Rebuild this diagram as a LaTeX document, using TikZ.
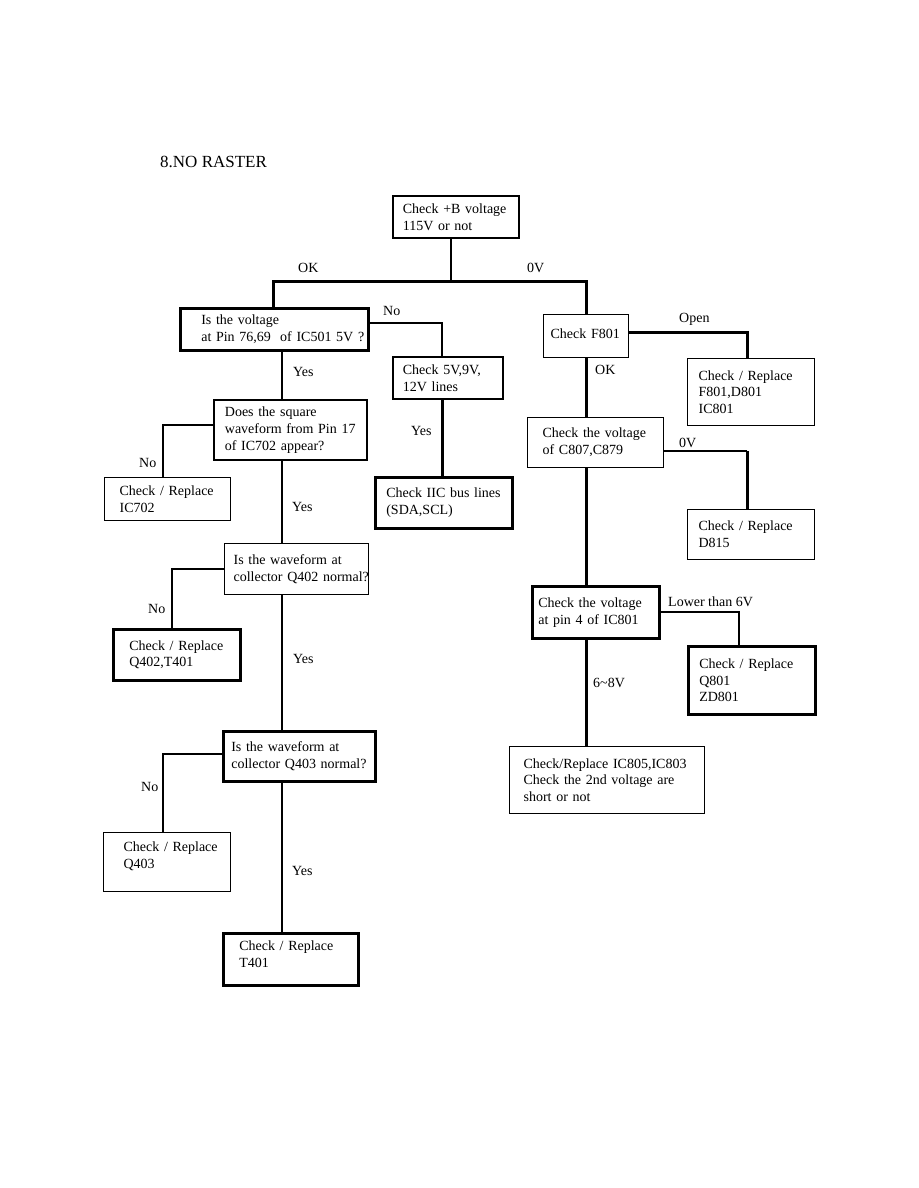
\documentclass[tikz,border=0pt]{standalone}
\usepackage{fontspec}
\setmainfont{Liberation Serif}
\begin{document}
\begin{tikzpicture}[x=1pt,y=-1pt,
  every node/.style={font=\fontsize{14}{16.8}\selectfont},
  box/.style={draw, rectangle, anchor=north west, align=left, inner ysep=1pt},
  bx/.style n args={3}{minimum width=#1, minimum height=#2, text width=#1, inner xsep=0pt,
    execute at begin node={\leftskip=#3pt\relax\rightskip=0pt plus 1fil minus 80pt\relax}},
  up/.style={execute at end node={\endgraf\kern#1pt}},
  thinb/.style={line width=1.2pt},
  medb/.style={line width=1.8pt},
  thickb/.style={line width=2.6pt},
  lbl/.style={anchor=west, inner sep=0pt},
  wire/.style={line width=1.2pt},
  wirem/.style={line width=2pt},
  wiret/.style={line width=3pt},
]
\useasboundingbox[fill=white] (0,0) rectangle (918,1188);

\node[anchor=base west, inner sep=0pt, font=\fontsize{17}{20}\selectfont] (title) at (160,167) {8.NO RASTER};

% boxes
\node[box,medb,bx={126}{42}{10}] (b1) at (392,195) {Check +B voltage\\115V or not};
\node[box,thickb,bx={188}{42}{21}] (b2) at (179,307) {Is the voltage\\at Pin 76,69\ \ of IC501 5V ?};
\node[box,medb,bx={110}{42}{10}] (b3) at (392,356) {Check 5V,9V,\\12V lines};
\node[box,thickb,bx={137}{51}{11}] (b4) at (374,476) {Check IIC bus lines\\(SDA,SCL)};
\node[box,medb,bx={153}{60}{11}] (b5) at (213,399) {Does the square\\waveform from Pin 17\\of IC702 appear?};
\node[box,thinb,bx={126}{43}{15}] (b6) at (104,477) {Check / Replace\\IC702};
\node[box,thinb,bx={144}{51}{9}] (b7) at (224,543) {Is the waveform at\\collector Q402 normal?};
\node[box,thickb,bx={127}{51}{16}] (b8) at (112,628) {Check / Replace\\Q402,T401};
\node[box,thickb,bx={152}{50}{8}] (b9) at (222,730) {Is the waveform at\\collector Q403 normal?};
\node[box,thinb,bx={127}{59}{20},up=12] (b10) at (103,832) {Check / Replace\\Q403};
\node[box,thickb,bx={135}{52}{16},up=10] (b11) at (222,932) {Check / Replace\\T401};
\node[box,thinb,bx={85}{43}{7},up=4] (b12) at (543,314) {Check F801};
\node[box,thinb,bx={127}{67}{11}] (b13) at (687,358) {Check / Replace\\F801,D801\\IC801};
\node[box,thinb,bx={136}{50}{15}] (b14) at (527,417) {Check the voltage\\of C807,C879};
\node[box,thinb,bx={127}{50}{11}] (b15) at (687,509) {Check / Replace\\D815};
\node[box,thickb,bx={127}{52}{6}] (b16) at (531,585) {Check the voltage\\at pin 4 of IC801};
\node[box,thickb,bx={127}{68}{11}] (b17) at (687,645) {Check / Replace\\Q801\\ZD801};
\node[box,thinb,bx={195}{67}{14}] (b18) at (509,746) {Check/Replace IC805,IC803\\Check the 2nd voltage are\\short or not};

% junction coordinates
\coordinate (j0) at (451,281);
\coordinate (jL) at (273,281);
\coordinate (jR) at (586,281);
\coordinate (c23) at (442,323);
\coordinate (vL) at (282,0);
\coordinate (c56) at (163,425);
\coordinate (c78) at (172,569);
\coordinate (c910) at (163,754);
\coordinate (c1213) at (747,332);
\coordinate (c1415) at (747,451);
\coordinate (c1617) at (739,612);
\coordinate (vR) at (586,0);

% connectors
\draw[wire] (b1.south -| j0) -- (j0);
\draw[wiret] (b2.north -| jL) -- (jL) -- (jR) -- (b12.north -| jR);
\draw[wirem] (b2.east |- c23) -- (c23) -- (b3.north -| c23);
\draw[wiret] (b3.south -| c23) -- (b4.north -| c23);
\draw[wire] (b2.south -| vL) -- (b5.north -| vL);
\draw[wirem] (b5.west |- c56) -- (c56) -- (b6.north -| c56);
\draw[wire] (b5.south -| vL) -- (b7.north -| vL);
\draw[wirem] (b7.west |- c78) -- (c78) -- (b8.north -| c78);
\draw[wire] (b7.south -| vL) -- (b9.north -| vL);
\draw[wirem] (b9.west |- c910) -- (c910) -- (b10.north -| c910);
\draw[wire] (b9.south -| vL) -- (b11.north -| vL);
\draw[wiret] (b12.east |- c1213) -- (c1213) -- (b13.north -| c1213);
\draw[wiret] (b12.south -| vR) -- (b14.north -| vR);
\draw[wirem] (b14.east |- c1415) -- (c1415);
\draw[wiret] (c1415) -- (b15.north -| c1415);
\draw[wiret] (b14.south -| vR) -- (b16.north -| vR);
\draw[wire] (b16.east |- c1617) -- (c1617) -- (b17.north -| c1617);
\draw[wiret] (b16.south -| vR) -- (b18.north -| vR);

% labels
\node[lbl] (lOK) at (298,268) {OK};
\node[lbl] (l0V) at (527,268) {0V};
\node[lbl] (lNo1) at (383,311) {No};
\node[lbl] (lYes1) at (293,372) {Yes};
\node[lbl] (lYes2) at (411,431) {Yes};
\node[lbl] (lNo2) at (139,463) {No};
\node[lbl] (lYes3) at (292,507) {Yes};
\node[lbl] (lNo3) at (148,609) {No};
\node[lbl] (lYes4) at (293,659) {Yes};
\node[lbl] (lNo4) at (141,787) {No};
\node[lbl] (lYes5) at (292,871) {Yes};
\node[lbl] (lOpen) at (679,319) {Open};
\node[lbl] (lOK2) at (595,370) {OK};
\node[lbl] (l0V2) at (679,443) {0V};
\node[lbl] (lLow) at (668,602) {Lower than 6V};
\node[lbl] (l68) at (593,683) {6\textasciitilde8V};
\end{tikzpicture}
\end{document}
